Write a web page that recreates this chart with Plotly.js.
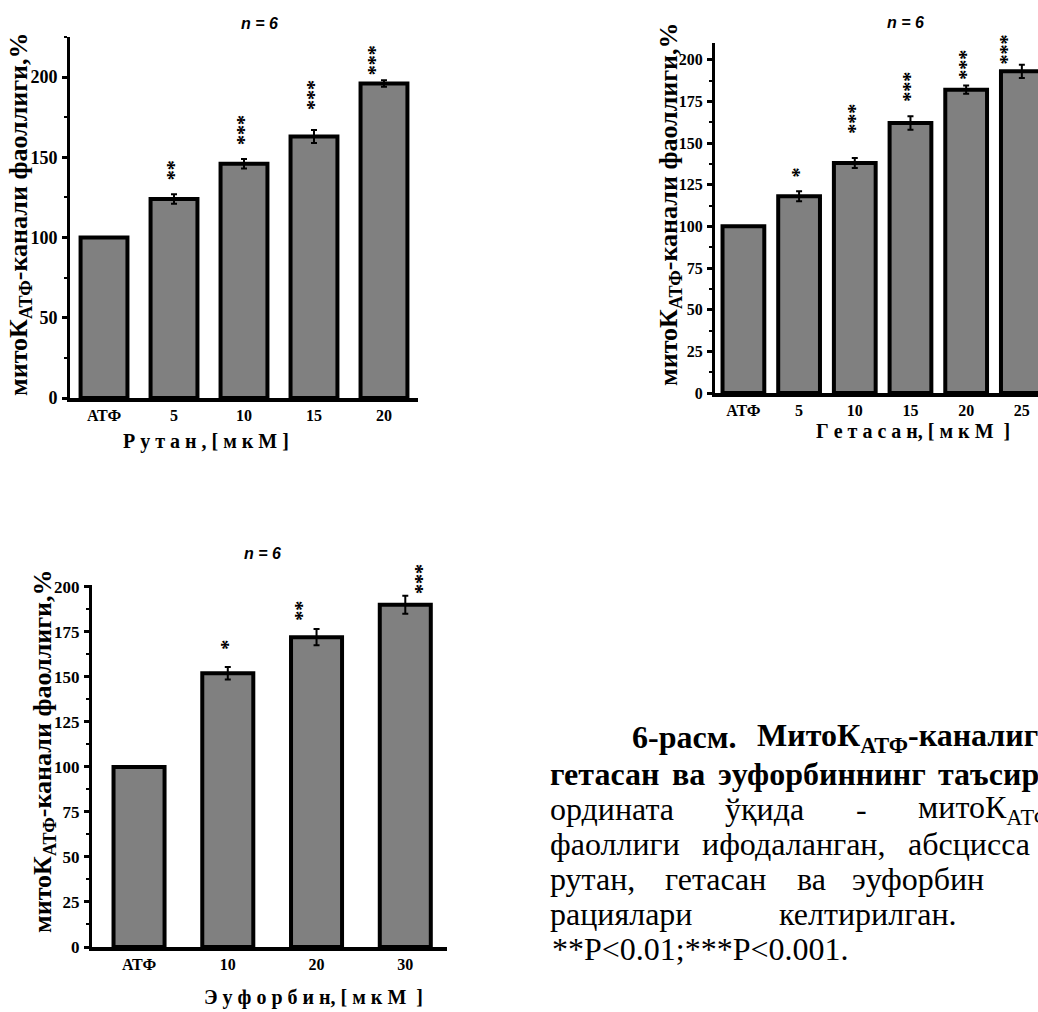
<!DOCTYPE html>
<html>
<head>
<meta charset="utf-8">
<script src="https://cdn.plot.ly/plotly-3.0.1.min.js"></script>
<style>
  html, body { margin: 0; padding: 0; background: #fff; }
  #chart { width: 1038px; height: 1012px; }
</style>
</head>
<body>
<div id="chart"></div>
<script>
// ---------------- data ----------------
const rutanCats = ['АТФ', '5', '10', '15', '20'];
const rutanVals = [100, 124, 146, 163, 196];
const rutanErr  = [0, 3, 3, 4, 2];
const rutanSig  = ['', '**', '***', '***', '***'];

const getasanCats = ['АТФ', '5', '10', '15', '20', '25'];
const getasanVals = [100, 118, 138, 162, 182, 193];
const getasanErr  = [0, 3, 3, 4, 2.5, 4];
const getasanSig  = ['', '*', '***', '***', '***', '***'];

const euphCats = ['АТФ', '10', '20', '30'];
const euphVals = [100, 152, 172, 190];
const euphErr  = [0, 3.5, 4.5, 5];
const euphSig  = ['', '*', '**', '***'];

const nLabel = 'n = 6';
const yTitle = 'митоК<sub>АТФ</sub>-канали фаоллиги,%';
const xTitles = ['Р у т а н , [ м к М ]', 'Г е т а с а н, [ м к М  ]', 'Э у ф о р б и н, [ м к М  ]'];

// caption lines (words laid out as justified text)
const captionLines = [
  {bold: true,  words: ['6-расм.', 'МитоК<sub>АТФ</sub>-каналига']},
  {bold: true,  words: ['гетасан', 'ва', 'эуфорбиннинг', 'таъсири']},
  {bold: false, words: ['ордината', 'ўқида', '-', 'митоК<sub>АТФ</sub>-канали']},
  {bold: false, words: ['фаоллиги', 'ифодаланган,', 'абсцисса']},
  {bold: false, words: ['рутан,', 'гетасан', 'ва', 'эуфорбин']},
  {bold: false, words: ['рациялари', 'келтирилган.']},
  {bold: false, words: ['**P<0.01;***P<0.001.']}
];

// ---------------- layout helpers ----------------
const W = 1038, H = 1012;
const px = x => x / W;
const py = y => 1 - y / H;

const SERIF = 'Liberation Serif, Times New Roman, serif';
const SANS = 'Liberation Sans, Arial, sans-serif';

// word x positions of caption (layout)
const captionX = [
  [630, 755],
  [548, 670, 716, 936],
  [548, 723, 854, 916],
  [548, 700, 906],
  [548, 663, 795, 850],
  [548, 777],
  [550]
];
const captionY = [737, 774, 809, 844, 879, 914, 949];

const panels = [
  {cats: rutanCats, vals: rutanVals, err: rutanErr, sig: rutanSig,
   x0: 70, x1: 418, yTop: 37, yBot: 398, xr: [-0.486, 4.486], yr: [0, 225],
   dtick: 50, minor: 25, bw: 0.67, tickY: 18, tickX: 16,
   starDx: [0, 0, 0, 0, -9], starDy: [0, 12, 12, 18, 3],
   n: [259, 24], xt: [206, 442], yt: [20, 215]},
  {cats: getasanCats, vals: getasanVals, err: getasanErr, sig: getasanSig,
   x0: 715, x1: 1038, yTop: 43, yBot: 393, xr: [-0.51, 5.29], yr: [0, 210],
   dtick: 25, minor: 12.5, bw: 0.75, tickY: 16, tickX: 16,
   starDx: [0, 0, 0, 0, 0, -15], starDy: [0, 12, 22, 13, 4, -2],
   n: [905, 23], xt: [913, 431], yt: [670, 205]},
  {cats: euphCats, vals: euphVals, err: euphErr, sig: euphSig,
   x0: 92, x1: 447, yTop: 585, yBot: 947, xr: [-0.53, 3.47], yr: [0, 201],
   dtick: 25, minor: 12.5, bw: 0.575, tickY: 17, tickX: 16,
   starDx: [0, 0, -14, 17], starDy: [0, 15, 6, 0],
   n: [262, 553], xt: [313, 997], yt: [44, 752]}
];

const traces = [];
const layout = {
  width: W, height: H,
  margin: {l: 0, r: 0, t: 0, b: 0},
  paper_bgcolor: '#fff', plot_bgcolor: 'rgba(0,0,0,0)',
  showlegend: false,
  annotations: []
};

panels.forEach((p, i) => {
  const k = i === 0 ? '' : String(i + 1);
  traces.push({
    type: 'bar', x: p.cats, y: p.vals,
    xaxis: 'x' + k, yaxis: 'y' + k,
    width: p.bw,
    marker: {color: '#808080', line: {color: '#000', width: 4}},
    error_y: {type: 'data', array: p.err, visible: true, color: '#000', thickness: 2, width: 3},
    hoverinfo: 'skip'
  });
  layout['xaxis' + k] = {
    domain: [px(p.x0), px(p.x1)], anchor: 'y' + k, type: 'category',
    range: p.xr, showline: true, linewidth: 4, linecolor: '#000',
    ticks: '', showgrid: false, zeroline: false,
    tickfont: {family: SERIF, size: p.tickX, color: '#000', weight: 'bold'},
    ticklabelstandoff: 0, fixedrange: true
  };
  layout['yaxis' + k] = {
    domain: [py(p.yBot), py(p.yTop)], anchor: 'x' + k,
    range: p.yr, tickmode: 'linear', tick0: 0, dtick: p.dtick,
    showline: true, linewidth: 3, linecolor: '#000',
    ticks: 'outside', ticklen: 5, tickwidth: 3, tickcolor: '#000',
    minor: {ticks: 'outside', ticklen: 3, tickwidth: 2, tickcolor: '#000', dtick: p.minor, tick0: 0, showgrid: false},
    showgrid: false, zeroline: false,
    tickfont: {family: SERIF, size: p.tickY, color: '#000', weight: 'bold'},
    ticklabelstandoff: 1, fixedrange: true
  };
  // significance stars (x given as category index)
  p.sig.forEach((s, j) => {
    if (!s) return;
    layout.annotations.push({
      xref: 'x' + k, yref: 'y' + k, x: j, y: p.vals[j] + p.err[j],
      text: s, showarrow: false, textangle: -90,
      xanchor: 'center', yanchor: 'bottom', yshift: p.starDy[j], xshift: p.starDx[j],
      font: {family: SERIF, size: 20, color: '#000', weight: 'bold'}
    });
  });
  // n = 6
  layout.annotations.push({
    xref: 'paper', yref: 'paper', x: px(p.n[0]), y: py(p.n[1]),
    text: nLabel, showarrow: false, xanchor: 'center', yanchor: 'middle',
    font: {family: SANS, size: 16, color: '#000', weight: 'bold', style: 'italic'}
  });
  // x title
  layout.annotations.push({
    xref: 'paper', yref: 'paper', x: px(p.xt[0]), y: py(p.xt[1]),
    text: xTitles[i], showarrow: false, xanchor: 'center', yanchor: 'middle',
    font: {family: SERIF, size: 20, color: '#000', weight: 'bold'}
  });
  // y title
  layout.annotations.push({
    xref: 'paper', yref: 'paper', x: px(p.yt[0]), y: py(p.yt[1]),
    text: yTitle, showarrow: false, textangle: -90, xanchor: 'center', yanchor: 'middle',
    font: {family: SERIF, size: 26, color: '#000', weight: 'bold'}
  });
});

// caption
captionLines.forEach((line, li) => {
  line.words.forEach((w, wi) => {
    layout.annotations.push({
      xref: 'paper', yref: 'paper', x: px(captionX[li][wi]), y: py(captionY[li]),
      text: w, showarrow: false, xanchor: 'left', yanchor: 'middle',
      font: {family: SERIF, size: 32, color: '#000', weight: line.bold ? 'bold' : 'normal'}
    });
  });
});

Plotly.newPlot('chart', traces, layout, {displayModeBar: false, staticPlot: true});
</script>
</body>
</html>
